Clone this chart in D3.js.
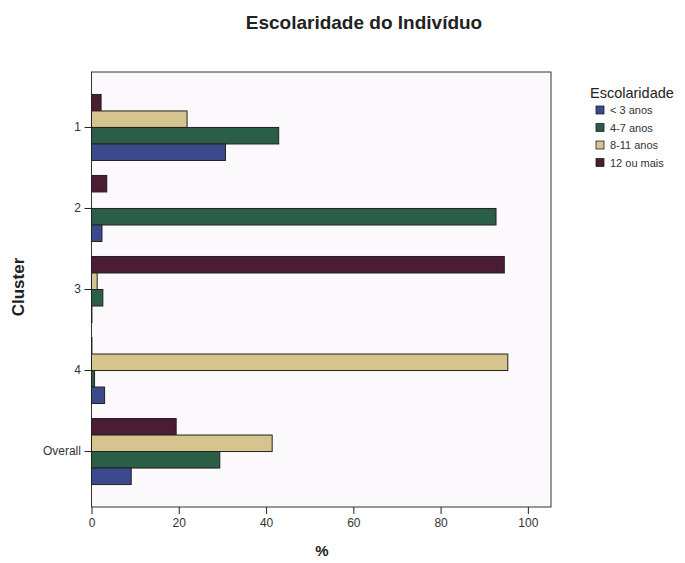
<!DOCTYPE html>
<html><head><meta charset="utf-8">
<script src="https://cdn.jsdelivr.net/npm/d3@7"></script>
<style>body{margin:0;background:#fff;} text{font-family:"Liberation Sans",Arial,sans-serif;}</style>
</head><body><svg id="c" width="685" height="563"></svg>
<script>
const categories = ["1", "2", "3", "4", "Overall"];
const seriesNames = ["< 3 anos", "4-7 anos", "8-11 anos", "12 ou mais"];
const s_lt3 = [30.7, 2.4, 0.1, 3.0, 9.1];
const s_4to7 = [42.9, 92.7, 2.6, 0.7, 29.4];
const s_8to11 = [21.9, 0, 1.3, 95.4, 41.4];
const s_12plus = [2.2, 3.5, 94.6, 0.1, 19.4];
const seriesColors = ["#3a4a8c", "#2b5e46", "#d6c48f", "#4b1c33"];
const xTicks = [0, 20, 40, 60, 80, 100];

const series = [s_lt3, s_4to7, s_8to11, s_12plus];
const svg = d3.select("#c");
const L = 91.5, R = 551, T = 72, B = 507;

svg.append("rect").attr("x", L).attr("y", T).attr("width", R - L).attr("height", B - T)
  .attr("fill", "#fbf9fb").attr("stroke", "#333").attr("stroke-width", 1);

const x = d3.scaleLinear().domain([0, 105.3]).range([L, R]);
const y = d3.scaleBand().domain(categories).range([T, B]).paddingInner(0.185).paddingOuter(0.277);
// order top to bottom: 12 ou mais, 8-11, 4-7, <3
const order = [3, 2, 1, 0];
const sub = d3.scaleBand().domain(order).range([0, y.bandwidth()]);

categories.forEach((c, ci) => {
  order.forEach(si => {
    const v = series[si][ci];
    if (v <= 0) return;
    svg.append("rect")
      .attr("x", x(0)).attr("y", y(c) + sub(si))
      .attr("width", x(v) - x(0)).attr("height", sub.bandwidth())
      .attr("fill", seriesColors[si]).attr("stroke", "#222").attr("stroke-width", 1);
  });
});

const xAxis = svg.append("g").attr("transform", `translate(0,${B})`)
  .call(d3.axisBottom(x).tickValues(xTicks).tickSize(7).tickSizeOuter(0).tickFormat(d3.format("d")));
xAxis.select(".domain").remove();
xAxis.selectAll("line").attr("stroke", "#222");
xAxis.selectAll("text").attr("font-size", 12).attr("fill", "#333").attr("dy", "0.85em");

const yAxis = svg.append("g").attr("transform", `translate(${L},0)`)
  .call(d3.axisLeft(y).tickSize(7).tickSizeOuter(0));
yAxis.select(".domain").remove();
yAxis.selectAll("line").attr("stroke", "#222");
yAxis.selectAll("text").attr("font-size", 12).attr("fill", "#333").attr("dx", "-0.05em");

svg.append("text").attr("x", 364).attr("y", 29).attr("text-anchor", "middle")
  .attr("font-size", 19).attr("font-weight", "bold").attr("fill", "#222").text("Escolaridade do Indivíduo");
svg.append("text").attr("x", 322).attr("y", 556).attr("text-anchor", "middle")
  .attr("font-size", 15).attr("font-weight", "bold").attr("fill", "#222").text("%");
svg.append("text").attr("transform", "translate(24,287) rotate(-90)").attr("text-anchor", "middle")
  .attr("font-size", 17).attr("font-weight", "bold").attr("fill", "#222").text("Cluster");

const lg = svg.append("g");
lg.append("text").attr("x", 590).attr("y", 98).attr("font-size", 14.5).attr("fill", "#222").text("Escolaridade");
seriesNames.forEach((n, i) => {
  const yy = 110 + i * 17.5;
  lg.append("rect").attr("x", 596).attr("y", yy - 4).attr("width", 8).attr("height", 8)
    .attr("fill", seriesColors[i]).attr("stroke", "#222").attr("stroke-width", 0.8);
  lg.append("text").attr("x", 610).attr("y", yy + 4).attr("font-size", 11).attr("fill", "#333").text(n);
});
</script></body></html>
